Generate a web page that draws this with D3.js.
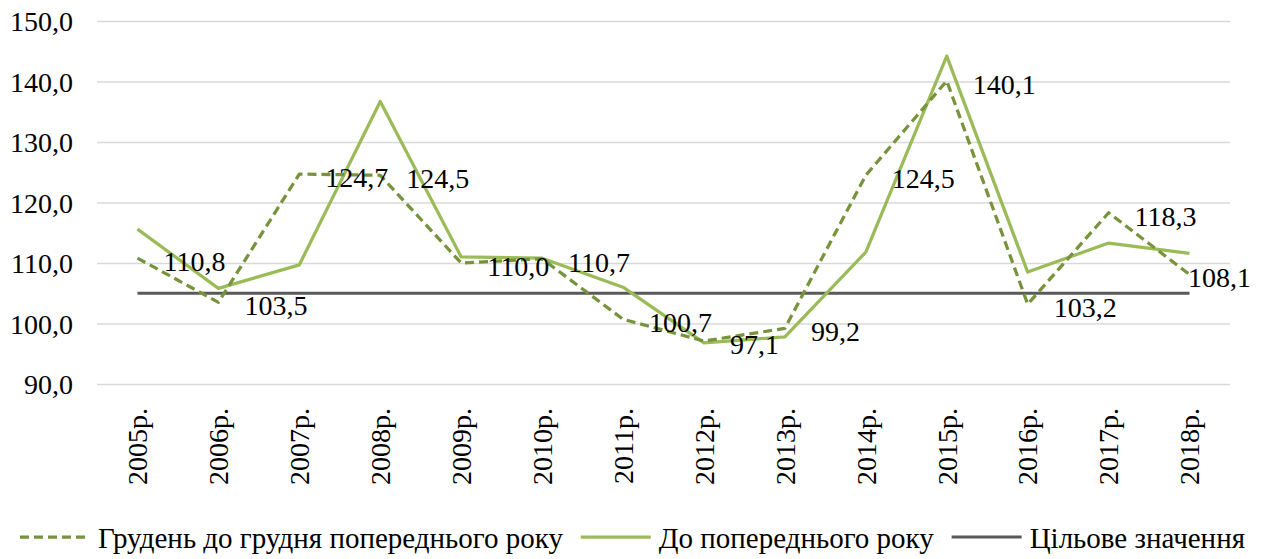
<!DOCTYPE html>
<html>
<head>
<meta charset="utf-8">
<script src="https://cdn.jsdelivr.net/npm/d3@7"></script>
<style>
  html, body { margin: 0; padding: 0; background: #fff; }
  svg { display: block; }
  svg text { font-family: 'Liberation Serif', Tinos, 'Times New Roman', Times, 'DejaVu Serif', 'Noto Serif', serif; fill: #000; }
</style>
</head>
<body>
<svg id="chart" width="1261" height="559"></svg>
<script>
const years = ["2005р.","2006р.","2007р.","2008р.","2009р.","2010р.","2011р.","2012р.","2013р.","2014р.","2015р.","2016р.","2017р.","2018р."];
const decToDec = [110.8, 103.5, 124.7, 124.5, 110.0, 110.7, 100.7, 97.1, 99.2, 124.5, 140.1, 103.2, 118.3, 108.1];
const toPrevYear = [115.6, 105.8, 109.7, 136.7, 111.0, 110.8, 106.0, 96.8, 97.8, 111.8, 144.2, 108.5, 113.3, 111.6];
const target = [105, 105, 105, 105, 105, 105, 105, 105, 105, 105, 105, 105, 105, 105];
const yTicks = [90, 100, 110, 120, 130, 140, 150];
const seriesNames = ["Грудень до грудня попереднього року", "До попереднього року", "Цільове значення"];

(function () {
const W = 1261, H = 559;
const pLeft = 97, pRight = 1230, pTop = 21, pBottom = 384;
const FS = 28;
const svg = d3.select("#chart");

const x = d3.scaleBand().domain(years).range([pLeft, pRight]).padding(0);
const y = d3.scaleLinear().domain([90, 150]).range([pBottom, pTop]);
const cx = d => x(d) + x.bandwidth() / 2;
const fmt = v => v.toFixed(1).replace(".", ",");

// grid
const yAxis = d3.axisLeft(y).tickValues(yTicks).tickSize(-(pRight - pLeft)).tickFormat(fmt).tickPadding(24);
const gy = svg.append("g").attr("transform", `translate(${pLeft},0)`).call(yAxis);
gy.attr("font-family", null).attr("font-size", null);
gy.select(".domain").remove();
gy.selectAll(".tick line").attr("stroke", "#d9d9d9").attr("stroke-width", 1.5);
gy.selectAll(".tick text").style("font-size", FS + "px").attr("fill", "#000").attr("dy", "0.35em");

// x axis labels
const xAxis = d3.axisBottom(x).tickSize(0).tickPadding(0);
const gx = svg.append("g").attr("transform", `translate(0,${pBottom})`).call(xAxis);
gx.attr("font-family", null).attr("font-size", null);
gx.select(".domain").remove();
gx.selectAll(".tick text")
  .style("font-size", FS + "px").attr("fill", "#000")
  .attr("transform", "rotate(-90)")
  .attr("text-anchor", "end")
  .attr("x", -24).attr("y", 0).attr("dy", "0.35em");

const line = d3.line().x((d, i) => cx(years[i])).y(d => y(d));

svg.append("path").datum(target).attr("d", line)
  .attr("fill", "none").attr("stroke", "#595959").attr("stroke-width", 3);

svg.append("path").datum(toPrevYear).attr("d", line)
  .attr("fill", "none").attr("stroke", "#9bbb59").attr("stroke-width", 3.25).attr("stroke-linejoin", "round");

svg.append("path").datum(decToDec).attr("d", line)
  .attr("fill", "none").attr("stroke", "#77933c").attr("stroke-width", 3.25)
  .attr("stroke-dasharray", "9,5").attr("stroke-linejoin", "round");

// data labels
const labels = svg.append("g").selectAll("text").data(decToDec).join("text")
  .style("font-size", FS + "px")
  .attr("x", (d, i) => cx(years[i]) + 26)
  .attr("y", d => y(d) + 13)
  .text(d => fmt(d));
labels.each(function () {
  const w = this.getComputedTextLength();
  const xx = +this.getAttribute("x");
  if (xx + w > W - 10) this.setAttribute("x", W - 10 - w);
});

// legend: spread items across the same span as the reference
const lg = svg.append("g");
const swatch = 70, gapST = 8;
const legLeft = 20, legRight = 1245;
const styles = [
  { stroke: "#77933c", dash: "9,5", w: 3.25 },
  { stroke: "#9bbb59", dash: null, w: 3.25 },
  { stroke: "#595959", dash: null, w: 3 }
];
const ly = 537;
const items = seriesNames.map((n, i) => {
  const g = lg.append("g");
  g.append("line").attr("x1", 0).attr("x2", swatch).attr("y1", ly).attr("y2", ly)
    .attr("stroke", styles[i].stroke).attr("stroke-width", styles[i].w)
    .attr("stroke-dasharray", styles[i].dash);
  const t = g.append("text").attr("x", swatch + gapST).attr("y", ly + 11).style("font-size", (FS + 1) + "px").text(n);
  return { g, w: swatch + gapST + t.node().getComputedTextLength() };
});
const gapItems = ((legRight - legLeft) - d3.sum(items, d => d.w)) / (items.length - 1);
let lx = legLeft;
items.forEach(it => { it.g.attr("transform", `translate(${lx},0)`); lx += it.w + gapItems; });
})();
</script>
</body>
</html>
